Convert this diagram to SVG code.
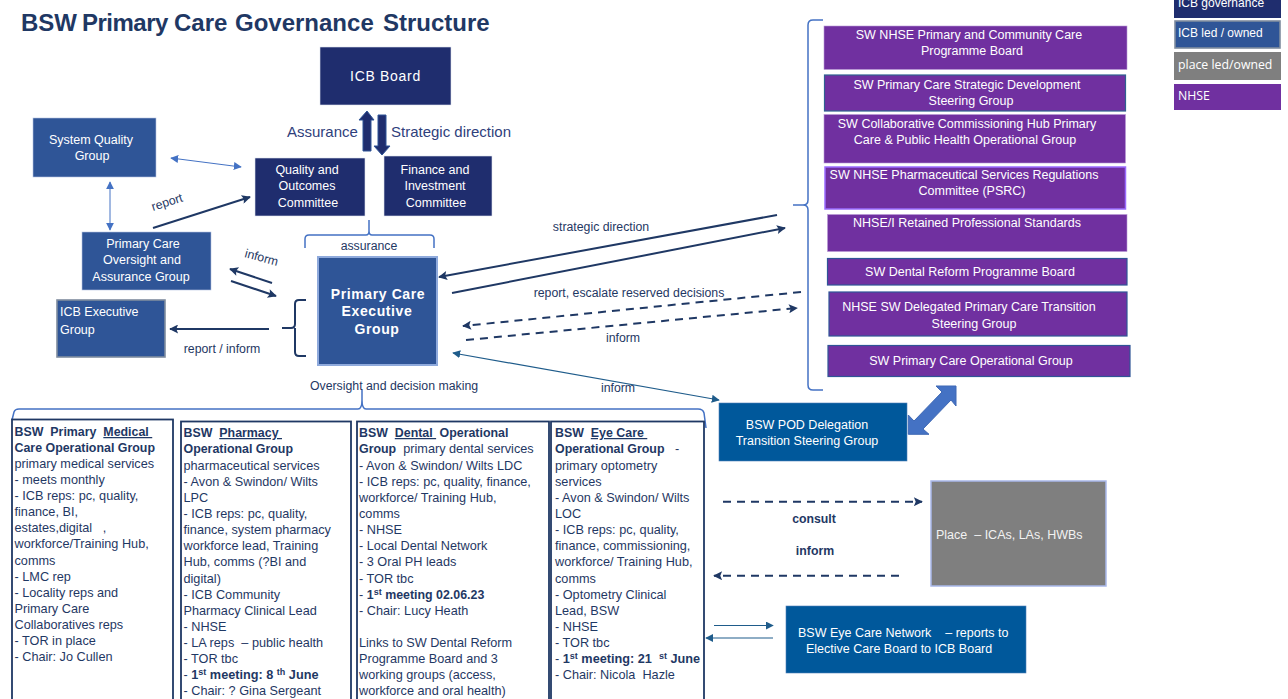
<svg xmlns="http://www.w3.org/2000/svg" width="1288" height="699" viewBox="0 0 1288 699">
<style>
text{font-family:"Liberation Sans",Arial,sans-serif;font-size:12.3px;fill:#1f3864;white-space:pre}
.w{fill:#fff;text-anchor:middle;font-size:12.5px}
.wl{fill:#fff;font-size:12.5px}
.m{text-anchor:middle}
.b{font-weight:bold}
.u{text-decoration:underline}
.s{font-size:9px;font-weight:bold}
.big{font-size:15px;fill:#2f3f7c}
.os{font-family:"Open Sans",sans-serif;font-size:12.3px}
.cols text{font-size:12.7px}
.cols .b{font-size:12.4px}
.cols .bm{font-size:12.7px;font-weight:bold}
.navy{fill:#1f2d6e;stroke:#dfe3ef;stroke-width:.6}
.blue{fill:#2f5597;stroke:#b4c3e2;stroke-width:.6}
.purple{fill:#7030a0}
.col{fill:#fff;stroke:#1f3864;stroke-width:1.8}
.c{fill:none;stroke:#1f3864;stroke-width:2}
.d{stroke-dasharray:8 6}
.brace{fill:none;stroke:#4472c4;stroke-width:1.5}
.thin{fill:none;stroke:#4472c4;stroke-width:1}
.teal{fill:none;stroke:#1f5c8b;stroke-width:1.2}
</style>
<defs>
<marker id="a" viewBox="0 0 10 10" refX="9" refY="5" markerWidth="10" markerHeight="9" markerUnits="userSpaceOnUse" orient="auto-start-reverse"><path d="M0 0L10 5L0 10L2 5Z" fill="#1f3864"/></marker>
<marker id="t" viewBox="0 0 10 10" refX="9" refY="5" markerWidth="8" markerHeight="8" markerUnits="userSpaceOnUse" orient="auto-start-reverse"><path d="M0 0L10 5L0 10Z" fill="#1f5c8b"/></marker>
<marker id="l" viewBox="0 0 10 10" refX="9" refY="5" markerWidth="8" markerHeight="8" markerUnits="userSpaceOnUse" orient="auto-start-reverse"><path d="M0 0L10 5L0 10Z" fill="#4472c4"/></marker>
</defs>
<rect width="1288" height="699" fill="#fff"/>
<text id="title" y="31" class="b" style="font-size:24px"><tspan x="21">BSW</tspan><tspan x="82" style="letter-spacing:-.5px">Primary</tspan><tspan x="174">Care</tspan><tspan x="235">Governance</tspan><tspan x="383">Structure</tspan></text>

<g id="connectors">
<polygon points="363,151 363,120 359,120 367,111 374,120 371,120 371,151" fill="#1f2d6e" stroke="#2f5597"/>
<polygon points="378,115 386,115 386,146 390,146 382,155 374,146 378,146" fill="#1f2d6e" stroke="#2f5597"/>
<line class="thin" x1="171" y1="158" x2="241" y2="167" marker-start="url(#l)" marker-end="url(#l)"/>
<line class="thin" x1="110" y1="182" x2="110" y2="230" marker-start="url(#l)" marker-end="url(#l)"/>
<line class="c" x1="153" y1="228" x2="250" y2="197" marker-end="url(#a)"/>
<line class="c" x1="272" y1="283" x2="230" y2="269" marker-end="url(#a)"/>
<line class="c" x1="231" y1="281" x2="276" y2="296" marker-end="url(#a)"/>
<line class="c" x1="269" y1="329" x2="170" y2="329" marker-end="url(#a)"/>
<path class="c" d="M306 300H299Q295 300 295 304V324Q295 328 291 328H282M295 328V352Q295 356 299 356H306"/>
<path class="brace" d="M305 248V239Q305 235 309 235H366Q369 235 369 231V220M369 231Q369 235 372 235H430Q434 235 434 239V248"/>
<path class="brace" d="M12 420L14 412Q15 409 19 409H358Q362 409 362 400V390M362 400Q362 409 366 409H698Q703 409 704 413L706 428"/>
<path class="brace" d="M823 20H813Q808 20 808 25V200Q808 205 803 205H793M803 205Q808 205 808 210V385Q808 390 813 390H823"/>
<line class="c" x1="777" y1="215" x2="439" y2="277" marker-end="url(#a)"/>
<line class="c" x1="452" y1="293" x2="785" y2="228" marker-end="url(#a)"/>
<line class="c d" x1="801" y1="292" x2="463" y2="326" marker-end="url(#a)"/>
<line class="c d" x1="466" y1="340" x2="797" y2="308" marker-end="url(#a)"/>
<line class="teal" x1="453" y1="353" x2="719" y2="400" marker-start="url(#t)" marker-end="url(#t)"/>
<polygon points="908.3,415 908.3,434.3 929,434.3 923,429 951,400 956,406 956,386 936,386 942,392 914,421" fill="#4472c4" stroke="#3f69b5"/>
<line class="c d" x1="723" y1="501.7" x2="922" y2="501.7" marker-end="url(#a)"/>
<line class="c d" x1="899" y1="575.7" x2="714" y2="575.7" marker-end="url(#a)"/>
<line class="teal" x1="714" y1="625.5" x2="773" y2="625.5" marker-end="url(#t)"/>
<line class="teal" x1="773" y1="638" x2="706" y2="638" marker-end="url(#t)"/>
</g>

<g id="connector-labels">
<text x="287" y="137" class="big">Assurance</text>
<text x="391" y="137" class="big">Strategic direction</text>
<text transform="translate(153,211) rotate(-18)">report</text>
<text transform="translate(244,257) rotate(15)">inform</text>
<text x="222" y="353" class="m">report / inform</text>
<text x="369" y="250" class="m">assurance</text>
<text x="394" y="390" class="m">Oversight and decision making</text>
<text x="601" y="231" class="m">strategic direction</text>
<text x="629" y="297" class="m">report, escalate reserved decisions</text>
<text x="623" y="342" class="m">inform</text>
<text x="618" y="392" class="m">inform</text>
<text x="814" y="523" class="m b">consult</text>
<text x="815" y="555" class="m b">inform</text>
</g>

<g id="icb-board"><rect class="navy" x="320" y="47" width="131" height="58"/><text class="w" x="385.500" y="81" style="font-size:14px;letter-spacing:.7px">ICB Board</text></g>
<g id="system-quality"><rect class="blue" x="33" y="118" width="123" height="59"/><text class="w" x="91" y="144">System Quality</text><text class="w" x="92" y="160">Group</text></g>
<g id="quality"><rect class="navy" x="255" y="158" width="110" height="58"/><text class="w" x="307" y="174">Quality and</text><text class="w" x="307" y="190">Outcomes</text><text class="w" x="308" y="207">Committee</text></g>
<g id="finance"><rect class="navy" x="384" y="156" width="108" height="60"/><text class="w" x="435" y="174">Finance and</text><text class="w" x="435" y="190">Investment</text><text class="w" x="436" y="207">Committee</text></g>
<g id="oversight"><rect class="blue" x="82" y="232" width="129" height="58"/><text class="w" x="143" y="248">Primary Care</text><text class="w" x="142" y="264">Oversight and</text><text class="w" x="141" y="281">Assurance Group</text></g>
<g id="icb-exec"><rect x="57" y="300" width="108" height="57" fill="#2f5597" stroke="#7f8c9f" stroke-width="1.600"/><text class="wl" x="60" y="316">ICB Executive</text><text class="wl" x="60" y="334">Group</text></g>
<g id="pceg"><rect x="318" y="257" width="119" height="108" fill="#2f5597" stroke="#8faadc" stroke-width="2"/><text class="w b" x="378" y="299" style="font-size:14px;letter-spacing:.6px">Primary Care</text><text class="w b" x="377" y="316" style="font-size:14px;letter-spacing:.6px">Executive</text><text class="w b" x="377" y="334" style="font-size:14px;letter-spacing:.6px">Group</text></g>

<g id="sw-nhse-board"><rect class="purple" x="824" y="26" width="303" height="43.500" stroke="#b99ad6" stroke-width=".6"/><text class="w" x="969" y="39">SW NHSE Primary and Community Care</text><text class="w" x="972" y="55">Programme Board</text></g>
<g id="sw-strategic"><rect class="purple" x="824.500" y="75" width="301" height="36" stroke="#2f6090" stroke-width="1.200"/><text class="w" x="967" y="89">SW Primary Care Strategic Development</text><text class="w" x="971" y="105">Steering Group</text></g>
<g id="sw-hub"><rect class="purple" x="824" y="114.500" width="301.500" height="48.500" stroke="#b99ad6" stroke-width=".6"/><text class="w" x="967" y="128">SW Collaborative Commissioning Hub Primary</text><text class="w" x="965" y="144">Care &amp; Public Health Operational Group</text></g>
<g id="sw-psrc"><rect class="purple" x="825" y="167" width="300.500" height="42" stroke="#9a6cff" stroke-width="1.500"/><text class="w" x="964" y="179">SW NHSE Pharmaceutical Services Regulations</text><text class="w" x="972" y="195">Committee (PSRC)</text></g>
<g id="nhsei"><rect class="purple" x="827.500" y="214.500" width="299.500" height="37" stroke="#b99ad6" stroke-width=".6"/><text class="w" x="967" y="227">NHSE/I Retained Professional Standards</text></g>
<g id="sw-dental"><rect class="purple" x="827.500" y="258.500" width="299.500" height="26.500" stroke="#2f5597" stroke-width="1.200"/><text class="w" x="970" y="276">SW Dental Reform Programme Board</text></g>
<g id="sw-transition"><rect class="purple" x="829" y="292" width="298" height="44" stroke="#2f5597" stroke-width="1.200"/><text class="w" x="969" y="311">NHSE SW Delegated Primary Care Transition</text><text class="w" x="974" y="328">Steering Group</text></g>
<g id="sw-operational"><rect class="purple" x="828" y="345.500" width="302" height="31" stroke="#2f5597" stroke-width="1.200"/><text class="w" x="971" y="365">SW Primary Care Operational Group</text></g>

<g id="legend-governance"><rect x="1174" y="-10" width="107" height="28" fill="#1f2d6e"/><text class="wl" x="1178" y="7" style="font-size:12px">ICB governance</text></g>
<g id="legend-icb"><rect x="1175" y="21" width="105" height="27" fill="#2f5597" stroke="#7f8c9f" stroke-width="1.600"/><text class="wl" x="1178" y="37" style="font-size:12px">ICB led / owned</text></g>
<g id="legend-place"><rect x="1174" y="52" width="107" height="28" fill="#7f7f7f"/><text class="wl os" x="1178" y="69">place led/owned</text></g>
<g id="legend-nhse"><rect class="purple" x="1174" y="84" width="107" height="26"/><text class="wl os" x="1178" y="100">NHSE</text></g>

<g id="pod"><rect x="719" y="403" width="188" height="58" fill="#00589b" stroke="#4f7fb8" stroke-width=".6"/><text class="w" x="807" y="429">BSW POD Delegation</text><text class="w" x="807" y="445">Transition Steering Group</text></g>
<g id="place"><rect x="931" y="481" width="175" height="105" fill="#7f7f7f" stroke="#a9b8ea" stroke-width="1.500"/><text class="wl" x="936" y="539" style="fill:#f2f2f2">Place  – ICAs, LAs, HWBs</text></g>
<g id="eye-network"><rect x="786" y="606" width="240" height="67" fill="#00589b" stroke="#4f7fb8" stroke-width=".6"/><text class="wl" x="798" y="637">BSW Eye Care Network    – reports to</text><text class="wl" x="806" y="653">Elective Care Board to ICB Board</text></g>

<g class="cols">
<g id="medical"><rect class="col" x="12" y="419.500" width="161" height="290"/>
<text x="14.500" y="436"><tspan class="b">BSW  Primary  </tspan><tspan class="b u">Medical </tspan></text>
<text x="14.500" y="452" class="b">Care Operational Group</text>
<text x="14.500" y="468">primary medical services</text>
<text x="14.500" y="484">- meets monthly</text>
<text x="14.500" y="500">- ICB reps: pc, quality,</text>
<text x="14.500" y="516">finance, BI,</text>
<text x="14.500" y="532">estates,digital   ,</text>
<text x="14.500" y="548">workforce/Training Hub,</text>
<text x="14.500" y="565">comms</text>
<text x="14.500" y="581">- LMC rep</text>
<text x="14.500" y="597">- Locality reps and</text>
<text x="14.500" y="613">Primary Care</text>
<text x="14.500" y="629">Collaboratives reps</text>
<text x="14.500" y="645">- TOR in place</text>
<text x="14.500" y="661">- Chair: Jo Cullen</text>
</g>
<g id="pharmacy"><rect class="col" x="181" y="421.500" width="170" height="290"/>
<text x="183.500" y="437"><tspan class="b">BSW  </tspan><tspan class="b u">Pharmacy </tspan></text>
<text x="183.500" y="453" class="b">Operational Group</text>
<text x="183.500" y="470">pharmaceutical services</text>
<text x="183.500" y="486">- Avon &amp; Swindon/ Wilts</text>
<text x="183.500" y="502">LPC</text>
<text x="183.500" y="518">- ICB reps: pc, quality,</text>
<text x="183.500" y="534">finance, system pharmacy</text>
<text x="183.500" y="550">workforce lead, Training</text>
<text x="183.500" y="566">Hub, comms (?BI and</text>
<text x="183.500" y="583">digital)</text>
<text x="183.500" y="599">- ICB Community</text>
<text x="183.500" y="615">Pharmacy Clinical Lead</text>
<text x="183.500" y="631">- NHSE</text>
<text x="183.500" y="647">- LA reps  – public health</text>
<text x="183.500" y="663">- TOR tbc</text>
<text x="183.500" y="679">- <tspan class="bm">1</tspan><tspan class="s" dy="-4">st</tspan><tspan class="bm" dy="4"> meeting: 8 </tspan><tspan class="s" dy="-4">th</tspan><tspan class="bm" dy="4"> June</tspan></text>
<text x="183.500" y="695">- Chair: ? Gina Sergeant</text>
</g>
<g id="dental"><rect class="col" x="357" y="421.500" width="192" height="290"/>
<text x="359" y="437"><tspan class="b">BSW  </tspan><tspan class="b u">Dental </tspan><tspan class="b"> Operational</tspan></text>
<text x="359" y="453"><tspan class="b">Group</tspan>  primary dental services</text>
<text x="359" y="470">- Avon &amp; Swindon/ Wilts LDC</text>
<text x="359" y="486">- ICB reps: pc, quality, finance,</text>
<text x="359" y="502">workforce/ Training Hub,</text>
<text x="359" y="518">comms</text>
<text x="359" y="534">- NHSE</text>
<text x="359" y="550">- Local Dental Network</text>
<text x="359" y="566">- 3 Oral PH leads</text>
<text x="359" y="583">- TOR tbc</text>
<text x="359" y="599">- <tspan class="b">1</tspan><tspan class="s" dy="-4">st</tspan><tspan class="b" dy="4"> meeting 02.06.23</tspan></text>
<text x="359" y="615">- Chair: Lucy Heath</text>
<text x="359" y="647">Links to SW Dental Reform</text>
<text x="359" y="663">Programme Board and 3</text>
<text x="359" y="679">working groups (access,</text>
<text x="359" y="695">workforce and oral health)</text>
</g>
<g id="eye-care"><rect class="col" x="551" y="421.500" width="153" height="290"/>
<text x="555" y="437"><tspan class="b">BSW  </tspan><tspan class="b u">Eye Care </tspan></text>
<text x="555" y="453"><tspan class="b">Operational Group</tspan>   -</text>
<text x="555" y="470">primary optometry</text>
<text x="555" y="486">services</text>
<text x="555" y="502">- Avon &amp; Swindon/ Wilts</text>
<text x="555" y="518">LOC</text>
<text x="555" y="534">- ICB reps: pc, quality,</text>
<text x="555" y="550">finance, commissioning,</text>
<text x="555" y="566">workforce/ Training Hub,</text>
<text x="555" y="583">comms</text>
<text x="555" y="599">- Optometry Clinical</text>
<text x="555" y="615">Lead, BSW</text>
<text x="555" y="631">- NHSE</text>
<text x="555" y="647">- TOR tbc</text>
<text x="555" y="663">- <tspan class="bm">1</tspan><tspan class="s" dy="-4">st</tspan><tspan class="bm" dy="4"> meeting: 21  </tspan><tspan class="s" dy="-4">st</tspan><tspan class="bm" dy="4"> June</tspan></text>
<text x="555" y="679">- Chair: Nicola  Hazle</text>
</g>
</g>
</svg>
